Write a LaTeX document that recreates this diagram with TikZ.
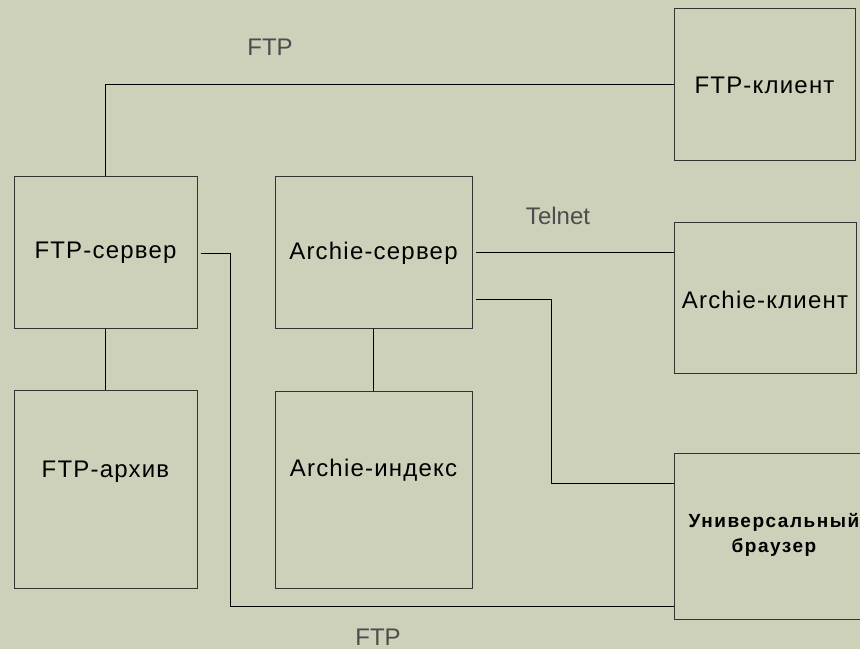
\documentclass[tikz,border=0pt]{standalone}
\usepackage{fontspec}
\setmainfont{Liberation Sans}
\usetikzlibrary{calc}
\definecolor{bg}{RGB}{205,209,186}
\begin{document}
\begin{tikzpicture}[x=1pt,y=-1pt,
  box/.style={draw=black!80, line width=1pt, fill=bg, inner sep=0pt},
  boxtext/.style={font=\fontsize{24}{28}\selectfont\addfontfeature{LetterSpace=5}, text=black},
  smalltext/.style={font=\fontsize{19}{25}\selectfont\bfseries\addfontfeature{LetterSpace=8}, text=black, align=center},
  wire/.style={draw=black, line width=1pt},
  proto/.style={font=\fontsize{24}{28}\selectfont, text=black!70}]
\fill[bg] (0,0) rectangle (860,649);
\useasboundingbox (0,0) rectangle (860,649);

\node[box, minimum width=181pt, minimum height=152pt,
  label={[boxtext,anchor=base,yshift=-1pt]center:FTP-клиент}] (fc) at (764.5,84) {};
\node[box, minimum width=183pt, minimum height=152pt,
  label={[boxtext,anchor=base,yshift=-1pt]center:FTP-сервер}] (fs) at (105.5,252) {};
\node[box, minimum width=197pt, minimum height=152pt,
  label={[boxtext,anchor=base,yshift=-1pt]center:Archie-сервер}] (as) at (373.5,252) {};
\node[box, minimum width=182pt, minimum height=151pt,
  label={[boxtext,anchor=base,yshift=-2.5pt]center:Archie-клиент}] (ac) at (765,297.5) {};
\node[box, minimum width=183pt, minimum height=198pt,
  label={[boxtext,anchor=base,yshift=17pt]center:FTP-архив}] (fa) at (105.5,489) {};
\node[box, minimum width=197pt, minimum height=197pt,
  label={[boxtext,anchor=base,yshift=19pt]center:Archie-индекс}] (ai) at (373.5,489.5) {};
\node[box, minimum width=200pt, minimum height=166pt,
  label={[smalltext,yshift=1pt]center:Универсальный\\браузер}] (ub) at (774,536) {};

% connectors
\draw[wire] (fs.north) |- (fc.west);
\draw[wire] (fs.south) -- (fa.north);
\draw[wire] (as.south) -- (ai.north);
\draw[wire] ([xshift=3pt]as.east) -- (ac.west |- as.east);
\coordinate (asb) at ($(as.east)+(3,47)$);
\coordinate (ubt) at ($(ub.west)+(0,-53)$);
\draw[wire] (asb) -- ++(76,0) |- (ubt);
\coordinate (fsr) at ($(fs.east)+(3,1)$);
\coordinate (ubb) at ($(ub.south west)+(0,-13)$);
\draw[wire] (fsr) -- ++(30,0) |- (ubb);

% protocol labels
\node[proto] (l1) at (270,47) {FTP};
\node[proto] (l2) at (558,216) {Telnet};
\node[proto] (l3) at (378,637) {FTP};
\end{tikzpicture}
\end{document}
